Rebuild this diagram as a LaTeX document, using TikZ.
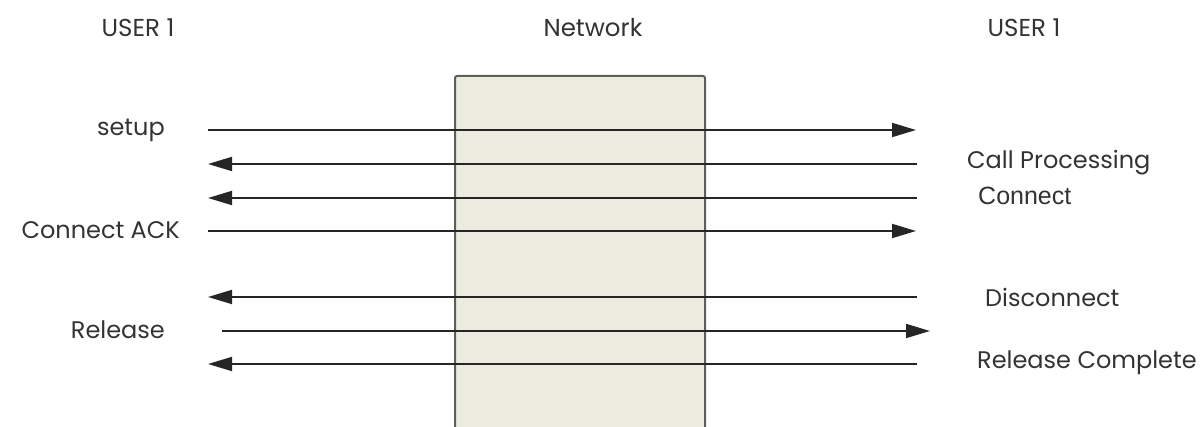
\documentclass[tikz,border=0pt]{standalone}
\usepackage{fontspec}
\setmainfont{Poppins}
\newfontfamily\arialfont{Liberation Sans}
\usetikzlibrary{arrows.meta}
\definecolor{boxfill}{HTML}{EBEBDF}
\definecolor{boxedge}{HTML}{5E5E5E}
\definecolor{txt}{HTML}{333333}
\tikzset{
  lbl/.style={inner sep=0pt, text=txt, font=\fontsize{24}{28}\selectfont},
  hdr/.style={inner sep=0pt, text=txt, font=\fontsize{24.5}{28}\selectfont},
  msg/.style={line width=1.8pt, draw=black!85, -{Triangle[length=24pt,width=14pt]}},
}
\begin{document}
\begin{tikzpicture}[x=1pt,y=-1pt]
\useasboundingbox (0,0) rectangle (1203,427);
\begin{scope}
\clip (0,0) rectangle (1203,427);
\draw[fill=boxfill, draw=boxedge, line width=2pt, rounded corners=2pt] (455,440) -- (455,76) -- (705,76) -- (705,440);
\end{scope}
% headers
\node[hdr] (u1) at (138,28) {USER 1};
\node[hdr] (net) at (593,28) {Network};
\node[hdr] (u2) at (1024,28) {USER 1};
% endpoints
\coordinate (a1) at (208,130); \coordinate (b1) at (916,130);
\coordinate (a2) at (917,164); \coordinate (b2) at (208,164);
\coordinate (a3) at (917,198); \coordinate (b3) at (208,198);
\coordinate (a4) at (208,231); \coordinate (b4) at (916,231);
\coordinate (a5) at (917,297); \coordinate (b5) at (208,297);
\coordinate (a6) at (222,331); \coordinate (b6) at (930,331);
\coordinate (a7) at (917,364); \coordinate (b7) at (208,364);
\draw[msg] (a1) -- (b1);
\draw[msg] (a2) -- (b2);
\draw[msg] (a3) -- (b3);
\draw[msg] (a4) -- (b4);
\draw[msg] (a5) -- (b5);
\draw[msg] (a6) -- (b6);
\draw[msg] (a7) -- (b7);
% labels
\node[lbl, anchor=east] (setup) at (165,130) {setup};
\node[lbl, anchor=east] (cack) at (180,230) {Connect ACK};
\node[lbl, anchor=east] (rel) at (165,330) {Release};
\node[lbl, anchor=west] (cp) at (967,163) {Call Processing};
\node[lbl, anchor=west, font=\arialfont\fontsize{25}{28}\selectfont] (con) at (978,196) {Connect};
\node[lbl, anchor=west] (disc) at (985,297) {Disconnect};
\node[lbl, anchor=west] (rc) at (977,363) {Release Complete};
\end{tikzpicture}
\end{document}
